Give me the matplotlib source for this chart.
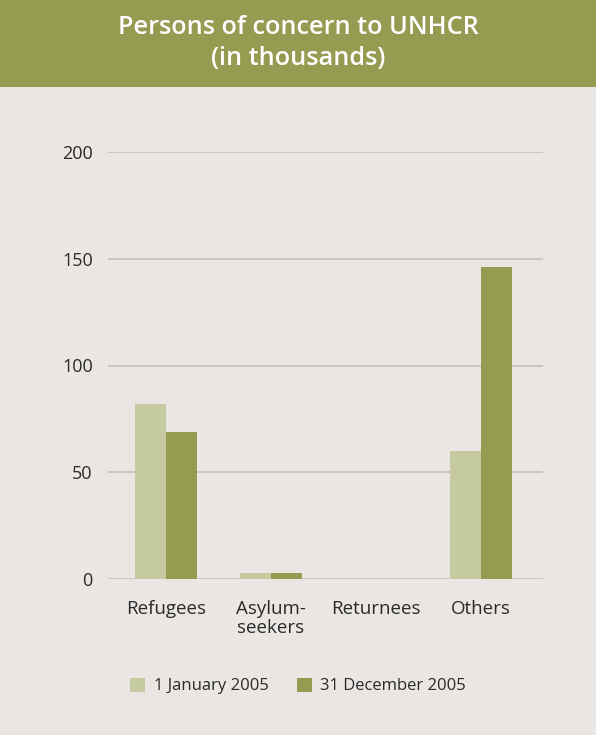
import matplotlib
matplotlib.use("Agg")
import matplotlib.pyplot as plt
from matplotlib.patches import Rectangle
import numpy as np

categories = ["Refugees", "Asylum-\nseekers", "Returnees", "Others"]
jan_2005 = [82, 3, 0, 60]
dec_2005 = [69, 3, 0, 146]
series_labels = ["1 January 2005", "31 December 2005"]
yticks = [0, 50, 100, 150, 200]

bg = "#e9e6e3"
light = "#c5cb9f"
dark = "#959c51"
grid_c = "#c9bcb7"
txt = "#2a2a2a"

plt.rcParams['font.family'] = ['Open Sans', 'DejaVu Sans']

fig = plt.figure(figsize=(5.96, 7.35), dpi=100, facecolor=bg)
# title band
fig.patches.append(Rectangle((0, 1 - 87 / 735), 1, 87 / 735, transform=fig.transFigure,
                             facecolor=dark, edgecolor="none", zorder=0))
fig.text(0.5, 1 - 43 / 735, "Persons of concern to UNHCR\n(in thousands)", ha="center", va="center",
         color="white", fontsize=18.2, fontweight="semibold", linespacing=1.3)

ax = fig.add_axes([108 / 596, 1 - 579 / 735, (543 - 108) / 596, (579 - 152) / 735])
ax.set_facecolor(bg)
x = np.arange(len(categories))
w = 0.295
ax.bar(x - w / 2, jan_2005, w, color=light, label=series_labels[0], zorder=3)
ax.bar(x + w / 2, dec_2005, w, color=dark, label=series_labels[1], zorder=3)
ax.set_ylim(0, 200)
ax.set_xlim(-0.552, 3.59)
ax.set_yticks(yticks)
ax.set_yticklabels([str(v) for v in yticks], fontsize=13, color=txt)
ax.yaxis.grid(True, color=grid_c, linewidth=1.2, zorder=1)
ax.set_axisbelow(True)
ax.set_xticks(x)
ax.set_xticklabels(categories, fontsize=13.5, color=txt, va="top", linespacing=1.05)
ax.tick_params(axis="both", length=0)
ax.tick_params(axis="y", pad=11)
ax.tick_params(axis="x", pad=15)
for s in ax.spines.values():
    s.set_visible(False)

leg = fig.legend(loc="center", bbox_to_anchor=(0.5, 1 - 686 / 735), ncol=2, frameon=False,
                 fontsize=12, handlelength=0.9, handleheight=0.9, handletextpad=0.5,
                 columnspacing=1.7, labelcolor=txt)

fig.savefig("out.png", dpi=100, facecolor=bg)
